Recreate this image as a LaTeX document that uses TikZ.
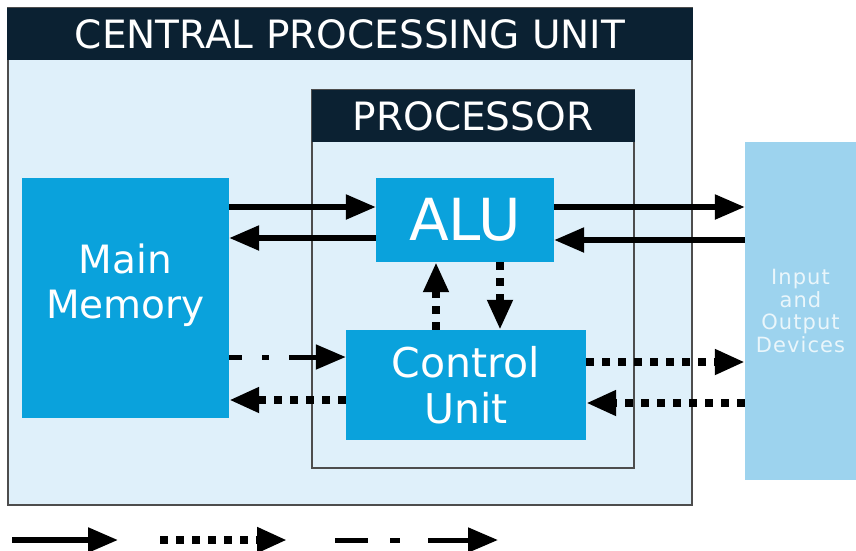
\documentclass[tikz,border=0pt]{standalone}
\usepackage{fontspec}
\setmainfont{DejaVu Sans}
\newfontfamily\iofont{DejaVu Sans}[LetterSpace=5]
\usetikzlibrary{arrows.meta,positioning}
\definecolor{cpufill}{HTML}{DFF0FA}
\definecolor{titlebar}{HTML}{0B2132}
\definecolor{unitblue}{HTML}{0AA2DC}
\definecolor{iofill}{HTML}{9DD3EE}
\definecolor{iotext}{HTML}{EAF6FB}
\definecolor{frame}{HTML}{4D4D4D}
\tikzset{
  cpubox/.style={
    draw=frame,
    line width=2.6pt,
    fill=cpufill,
    inner sep=0pt
  },
  procbox/.style={
    draw=frame,
    line width=1.3pt,
    inner sep=0pt
  },
  titlebox/.style={
    fill=titlebar,
    text=white,
    inner sep=0pt,
    font=\fontsize{39pt}{42pt}\selectfont
  },
  unitbox/.style={
    fill=unitblue,
    text=white,
    align=center,
    inner sep=0pt,
    font=\fontsize{41pt}{46pt}\selectfont
  },
  iobox/.style={
    fill=iofill,
    text=iotext,
    align=center,
    inner sep=0pt,
    font=\iofont\fontsize{21pt}{22.5pt}\selectfont
  },
  dataflow/.style={line width=5.5pt, draw=black, -{Triangle[length=30pt,width=24pt]}},
  ctrlflow/.style={line width=8pt, draw=black, dash pattern=on 8pt off 8pt, -{Triangle[length=30pt,width=24pt]}},
  addrflow/.style={line width=5pt, draw=black, -{Triangle[length=30pt,width=24pt]}}
}

\begin{document}
\begin{tikzpicture}[x=1pt,y=-1pt]
\useasboundingbox[fill=white] (0,0) rectangle (856,550);

% frames
\node[cpubox, minimum width=684pt, minimum height=497pt] (cpu) at (350,256.5) {};
\node[titlebox, minimum width=686pt, minimum height=52pt] (cputitle) at (350,34) {CENTRAL PROCESSING UNIT};
\node[procbox, minimum width=322pt, minimum height=378pt] (proc) at (473,279) {};
\node[titlebox, minimum width=323pt, minimum height=52pt] (proctitle) at (473,116) {PROCESSOR};

% units
\node[unitbox, minimum width=207pt, minimum height=240pt, text depth=34pt, font=\fontsize{39pt}{45pt}\selectfont] (mem) at (125.5,298) {Main\\Memory};
\node[unitbox, minimum width=178pt, minimum height=84pt, font=\fontsize{58pt}{60pt}\selectfont] (alu) at (465,220) {ALU};
\node[unitbox, minimum width=240pt, minimum height=110pt] (cu) at (466,385) {Control\\Unit};
\node[iobox, minimum width=111pt, minimum height=338pt] (io) at (800.5,311) {Input\\and\\Output\\Devices};

% data lines
\draw[dataflow] (mem.east |- 0,207) -- (alu.west |- 0,207);
\draw[dataflow] (alu.west |- 0,238) -- (mem.east |- 0,238);
\draw[dataflow] (alu.east |- 0,207) -- (io.west |- 0,207);
\draw[dataflow] (io.west |- 0,240) -- (alu.east |- 0,240);

% control lines
\draw[ctrlflow] (cu.north -| 436,0) -- (alu.south -| 436,0);
\draw[ctrlflow] (alu.south -| 500,0) -- (cu.north -| 500,0);
\draw[ctrlflow] (cu.west |- 0,400) -- (mem.east |- 0,400);
\draw[ctrlflow] (cu.east |- 0,362) -- (io.west |- 0,362);
\draw[ctrlflow] (io.west |- 0,403) -- (cu.east |- 0,403);

% address line
\draw[addrflow, dash pattern=on 13pt off 20pt on 7pt off 20pt on 60pt] (mem.east |- 0,357) -- (cu.west |- 0,357);

% key
\coordinate (keyA) at (12,540);
\coordinate (keyB) at (118,540);
\coordinate (keyC) at (160,540);
\coordinate (keyD) at (287,540);
\coordinate (keyE) at (335,540);
\coordinate (keyF) at (498,540);
\draw[dataflow] (keyA) -- (keyB);
\draw[ctrlflow] (keyC) -- (keyD);
\draw[addrflow, dash pattern=on 33pt off 22pt on 10pt off 28pt on 80pt] (keyE) -- (keyF);

\end{tikzpicture}
\end{document}
